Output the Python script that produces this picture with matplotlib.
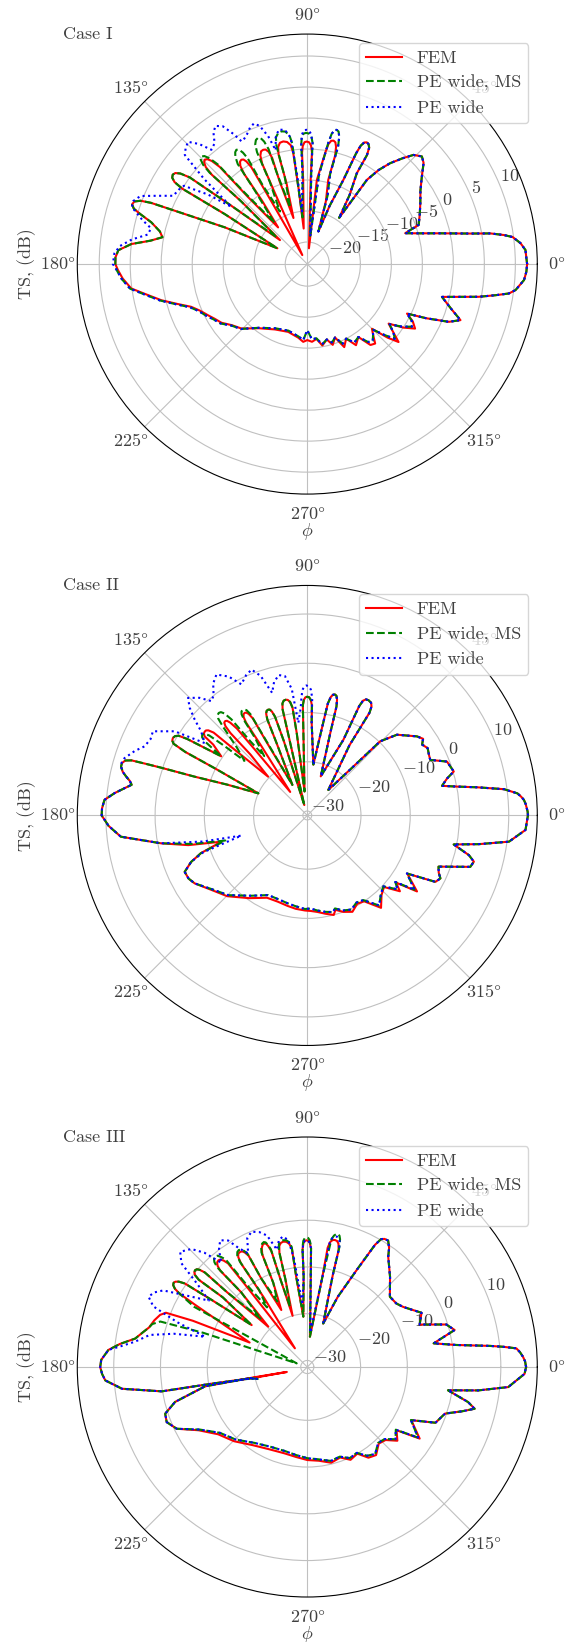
import numpy as np
import matplotlib.pyplot as plt

plt.rcParams['font.family'] = 'serif'
plt.rcParams['font.serif'] = ['cmr10']
plt.rcParams['mathtext.fontset'] = 'cm'
plt.rcParams['axes.formatter.use_mathtext'] = True
plt.rcParams['font.size'] = 13
plt.rcParams['text.color'] = '#404040'
plt.rcParams['axes.labelcolor'] = '#404040'
plt.rcParams['xtick.color'] = '#404040'
plt.rcParams['ytick.color'] = '#404040'
plt.rcParams['grid.color'] = '#c0c0c0'
plt.rcParams['grid.linewidth'] = 0.8

# ---------------- Case I (theta in degrees, TS in dB) ----------------
c1_right_theta = [0, 3.7, 5.6, 7.5, 8.4, 9.5, 10.6, 13.0, 15.5, 17.2, 17.5, 19.4, 24.0, 28.3, 33.0, 37.4,
                  41.0, 43.2, 45.8, 48.0, 50.6, 52.8, 54.7, 55.4, 58.5, 61.4, 61.3, 62.0, 62.9, 63.9, 64.9,
                  65.7, 66.2, 66.8, 69.0, 71.2]
c1_right_ts = [11.9, 11.7, 11.0, 9.85, 8.5, 6.4, 3.2, -1.5, -5.0, -6.7, -7.0, -4.5, -3.7, -2.85, -1.8, -0.3,
               1.3, 1.8, 1.0, -0.6, -2.5, -4.5, -6.9, -14.5, -10.5, -6.9, -3.5, -2.3, -1.85, -1.7, -1.9,
               -2.6, -4.0, -8.8, -13.5, -18.0]

c1_fem_top_theta = [73.5, 76.0, 75.6, 76.2, 77.0, 78.0, 79.0, 80.0, 80.8, 83.5, 84.0,
                    87.7, 87.6, 88.2, 89.2, 90.3, 91.3, 92.2, 92.7, 92.8, 95.8,
                    96.6, 97.2, 97.9, 99.4, 101.1, 102.7, 104.0, 104.7, 104.4, 106.7,
                    108.5, 108.3, 109.0, 110.0, 111.1, 112.3, 113.4, 114.2, 114.5, 119.0,
                    119.8, 120.0, 120.7, 121.4, 122.3, 123.3, 124.3, 125.0, 125.5, 128.5,
                    131.5, 132.0, 132.8, 133.6, 134.5, 135.4, 136.3, 136.9, 136.5, 138.7]
c1_fem_top_ts = [-13.0, -9.6, -5.5, -4.1, -3.4, -3.2, -3.3, -3.9, -5.3, -9.9, -21.0,
                 -10.0, -5.5, -4.4, -3.9, -3.8, -3.9, -4.5, -5.6, -10.0, -17.8,
                 -11.0, -5.5, -4.2, -3.6, -3.4, -3.5, -4.1, -5.3, -10.0, -15.8,
                 -9.5, -5.5, -4.4, -3.9, -3.8, -3.9, -4.5, -5.8, -11.0, -21.9,
                 -12.0, -5.5, -4.3, -3.8, -3.65, -3.8, -4.4, -5.8, -11.0, -16.0,
                 -9.0, -2.5, -0.9, -0.2, 0.05, -0.2, -0.9, -2.5, -9.0, -17.7]

c1_ms_top_theta = [73.5, 75.8, 75.3, 75.9, 76.7, 77.6, 78.5, 79.4, 80.2, 82.5, 84.0,
                   87.5, 87.5, 88.2, 89.3, 90.5, 91.6, 92.5, 92.9, 93.0, 95.8,
                   96.8, 97.1, 97.9, 99.4, 101.0, 102.5, 103.9, 104.6, 104.5, 106.8,
                   108.5, 108.6, 109.4, 110.3, 111.3, 112.5, 113.5, 114.2, 114.5, 117.5,
                   119.5, 119.4, 120.0, 120.8, 121.8, 122.8, 123.8, 124.8, 125.5, 128.5,
                   131.3, 131.9, 132.7, 133.6, 134.6, 135.6, 136.4, 136.9, 136.5, 138.7]
c1_ms_top_ts = [-12.0, -8.5, -4.0, -2.4, -1.6, -1.4, -1.5, -2.2, -3.8, -9.0, -19.0,
                -9.0, -4.0, -2.9, -2.5, -2.4, -2.5, -3.1, -4.3, -9.0, -16.0,
                -10.0, -4.0, -2.6, -1.9, -1.75, -1.9, -2.5, -3.8, -9.0, -14.0,
                -8.0, -4.0, -2.6, -1.9, -1.7, -1.9, -2.5, -3.8, -9.0, -14.0,
                -9.0, -4.0, -2.8, -2.1, -1.86, -2.1, -2.7, -3.9, -9.0, -15.0,
                -8.0, -2.0, -0.4, 0.5, 0.8, 0.5, -0.4, -2.0, -8.5, -17.0]

c1_left_theta = [142.5, 143.6, 144.5, 145.4, 146.4, 147.4, 148.3, 148.9, 148.8, 152.2, 156.0, 158.0, 158.6,
                 159.2, 160.1, 161.2, 162.3, 163.3, 165.0, 167.5, 169.5, 171.5, 173.5, 175.8, 178.0, 180.0]
c1_left_ts = [-8.0, 0.0, 1.6, 2.3, 2.5, 2.3, 1.6, 0.0, -8.0, -18.1, -9.0, -1.0, 3.5,
              5.2, 6.1, 6.3, 5.8, 4.6, 2.5, 0.8, 0.2, 2.0, 5.0, 7.0, 7.4, 7.4]

c1_wide_top_theta = [73.5, 75.8, 75.3, 75.9, 76.7, 77.6, 78.5, 79.4, 80.2, 82.5, 84.0,
                     87.5, 87.5, 88.3, 89.3, 90.4, 91.5, 92.4, 92.9, 93.0, 95.8,
                     96.5, 97.5, 99.5, 102.0, 104.0, 105.5, 107.0, 109.0, 110.8, 112.8, 115.0, 117.0,
                     118.2, 119.5, 121.5, 123.6, 125.5, 127.5, 130.0, 132.0, 134.3, 136.5, 138.3, 140.5,
                     143.0, 145.0, 147.6, 150.0, 153.0, 155.5, 157.8, 160.1, 162.0, 165.0, 167.1, 169.5,
                     172.0, 174.5, 176.8, 180.0]
c1_wide_top_ts = [-12.0, -8.5, -4.0, -2.4, -1.6, -1.4, -1.5, -2.2, -3.8, -9.0, -19.0,
                  -9.0, -4.0, -2.6, -2.0, -1.9, -2.0, -2.7, -4.3, -9.0, -15.0,
                  -9.0, -3.0, -1.6, -1.4, -2.5, -4.5, -2.0, 0.0, 0.7, 0.3, -0.5, -1.0,
                  -1.1, 0.5, 2.5, 3.2, 2.5, 1.0, 0.5, 2.5, 4.0, 3.5, 2.9, -2.0,
                  -8.2, -4.0, 0.0, 0.4, 0.7, 3.0, 5.5, 6.3, 6.2, 4.0, 2.3, 2.6,
                  5.0, 6.8, 7.6, 7.8]

c1_bot_theta = [181.8, 184.5, 187.9, 190.5, 193.9, 197.0, 200.2, 203.5, 207.3, 210.5, 214.4, 219.0, 224.4,
                233.0, 243.7, 254.3, 263.0, 267.0, 270.0, 273.5, 277.0, 280.5, 284.5, 287.5, 290.7, 294.0,
                297.5, 301.0, 305.0, 308.0, 310.5, 313.0, 315.0, 317.5, 319.5, 321.5, 323.8, 326.5, 329.1,
                331.5, 333.6, 335.5, 337.8, 339.9, 342.8, 346.3, 349.2, 350.6, 351.7, 352.9, 355.8, 358.0,
                360.0]
c1_bot_fem_ts = [7.0, 6.3, 5.1, 3.0, 0.7, -1.6, -3.6, -4.7, -5.55, -6.2, -6.8, -7.9, -8.7,
                 -10.6, -11.8, -12.2, -11.6, -11.0, -11.3, -11.0, -11.4, -10.2, -11.0, -9.9, -10.9, -8.9,
                 -10.0, -8.3, -9.2, -7.0, -6.7, -8.0, -8.8, -6.0, -4.2, -5.8, -7.3, -5.0, -3.3,
                 -4.2, -5.6, -2.5, 1.1, 2.75, 0.7, -1.2, 4.6, 7.2, 9.3, 10.3, 11.5, 11.8,
                 11.9]
c1_bot_pe_ts = [7.2, 6.5, 5.3, 3.2, 0.9, -1.4, -3.4, -4.5, -5.3, -6.0, -6.6, -7.8, -8.6,
                -10.7, -12.0, -12.4, -11.8, -11.3, -12.9, -11.4, -11.5, -10.4, -11.0, -10.3, -10.9, -9.5,
                -10.0, -8.8, -9.2, -7.6, -7.3, -8.0, -8.6, -6.6, -5.0, -5.8, -7.1, -5.3, -3.9,
                -4.4, -5.6, -2.5, 1.1, 2.75, 0.7, -1.2, 4.6, 7.2, 9.3, 10.3, 11.5, 11.8,
                11.9]

# ---------------- Case II ----------------
c2_right_theta = [0, 1.0, 3.0, 4.1, 5.0, 6.0, 7.6, 9.4, 10.9, 12.4, 14.8, 16.7, 21.1, 24.3, 26.5, 29.2, 31.7,
                  33.5, 35.8, 42.0, 45.5, 46.7, 50.5, 59.0, 58.8, 59.5, 60.5, 62.0, 63.2, 64.1, 64.6, 64.5,
                  71.0]
c2_right_ts = [13.9, 13.85, 13.5, 13.2, 12.7, 12.0, 9.4, 4.1, 0.1, -2.9, -1.55, 0.15, -0.5, -3.5, -3.3, -2.9,
               -3.5, -2.7, -3.45, -6.4, -9.8, -17.2, -24.2, -14.3, -6.5, -5.2, -4.6, -4.4, -4.5, -5.0, -6.3,
               -13.9, -22.5]

c2_mid_theta = [74.5, 75.0, 75.6, 76.3, 77.1, 78.0, 78.8, 79.6, 80.5, 83.2,
                87.3, 87.6, 88.3, 89.1, 90.0, 90.9, 91.7, 92.3, 92.6, 96.5,
                97.3, 97.8, 98.6, 99.6, 100.6, 101.6, 102.5, 103.1, 103.2, 106.0,
                107.5, 108.1, 108.8, 109.5, 110.3, 111.2, 112.0, 112.6, 113.0, 116.0]
c2_mid_ts = [-13.0, -8.0, -6.6, -5.9, -5.7, -5.85, -6.4, -7.8, -13.0, -20.5,
             -12.0, -8.5, -7.4, -6.9, -6.8, -6.9, -7.4, -8.5, -13.0, -26.0,
             -14.0, -8.8, -7.6, -7.1, -7.0, -7.1, -7.6, -8.8, -14.0, -28.7,
             -15.0, -9.8, -8.6, -8.1, -8.0, -8.1, -8.6, -9.8, -15.0, -24.0]

c2_fem_top_theta = [119.0, 119.3, 120.0, 120.7, 121.4, 122.2, 122.9, 123.4, 123.5, 126.0,
                    128.5, 129.0, 129.7, 130.3, 131.0, 131.8, 132.5, 133.0, 133.0, 135.3,
                    138.0, 138.5, 139.3, 140.0, 140.7, 141.6, 142.4, 143.0, 145.5,
                    147.5, 148.2, 149.0, 150.0, 151.0, 151.8, 152.5, 153.0, 155.7]
c2_fem_top_ts = [-14.0, -8.3, -7.1, -6.6, -6.5, -6.6, -7.1, -8.3, -14.0, -25.0,
                 -14.0, -8.2, -6.4, -5.7, -5.5, -5.6, -6.3, -8.0, -14.0, -19.7,
                 -10.0, -5.5, -4.4, -4.05, -4.0, -4.1, -4.6, -7.0, -9.7,
                 -2.0, -0.2, 0.4, 0.6, 0.45, -0.1, -3.0, -10.0, -20.0]

c2_ms_top_theta = [119.0, 119.3, 120.0, 120.7, 121.5, 122.3, 123.0, 123.6, 124.0, 126.0,
                   127.5, 128.3, 129.1, 129.9, 130.8, 131.7, 132.6, 133.5, 136.0, 139.0,
                   140.0, 140.8, 141.6, 142.5, 143.4, 144.2, 145.5,
                   147.5, 148.2, 149.0, 150.0, 151.0, 151.8, 152.5, 153.0, 155.7]
c2_ms_top_ts = [-12.0, -7.3, -6.2, -5.9, -5.8, -5.9, -6.4, -8.0, -12.0, -16.0,
                -12.0, -6.0, -4.2, -3.55, -3.4, -3.55, -4.2, -6.0, -11.0, -14.0,
                -9.0, -5.2, -4.2, -4.0, -4.3, -5.5, -9.7,
                -2.0, -0.2, 0.4, 0.6, 0.45, -0.1, -3.0, -10.0, -20.0]

c2_left_theta = [158.9, 161.0, 161.9, 162.3, 162.6, 163.2, 164.2, 165.3, 166.7, 167.9, 169.0, 170.1, 171.5,
                 173.4, 175.6, 178.0, 180.0]
c2_left_ts = [-13.6, -6.7, 0.3, 3.8, 6.5, 7.7, 8.2, 8.2, 7.6, 6.7, 5.8, 5.3, 6.6,
              8.5, 10.4, 10.8, 10.85]

c2_wide_top_theta = [74.5, 75.0, 75.6, 76.3, 77.1, 78.0, 78.8, 79.6, 80.5, 83.2,
                     87.3, 87.6, 88.4, 89.3, 90.4, 91.4, 92.2, 92.8, 93.5, 95.5,
                     97.0, 99.1, 101.5, 104.0, 106.0, 108.5, 110.9, 113.5, 116.7, 119.5, 122.8, 125.5,
                     128.0, 130.0, 132.5, 135.4, 137.5, 139.6, 141.6, 144.8, 147.6, 151.4, 154.0, 157.0,
                     159.5, 162.6, 164.2, 165.3, 166.7, 167.9, 169.0, 170.1, 171.5, 173.4, 175.6, 178.0,
                     180.0]
c2_wide_top_ts = [-13.0, -8.0, -6.6, -5.9, -5.7, -5.85, -6.4, -7.8, -13.0, -20.5,
                  -12.0, -7.0, -5.3, -4.7, -4.5, -4.7, -5.4, -6.8, -9.0, -12.0,
                  -5.0, -2.25, -1.8, -3.0, -5.0, -1.0, 0.8, 0.2, -1.1, 1.5, 3.15, 2.0,
                  0.0, -0.6, 1.5, 3.1, 1.5, -0.9, -3.4, -5.4, 1.0, 4.8, 4.5, 5.0,
                  6.5, 8.0, 8.3, 8.2, 7.6, 6.7, 5.8, 5.3, 6.6, 8.5, 10.4, 10.8,
                  10.85]

c2_bot_theta = [183.0, 186.5, 190.8, 194.0, 197.0, 199.5, 201.8, 204.7, 208.0, 211.1, 218.0, 225.2, 235.0,
                243.9, 251.0, 257.8, 263.0, 268.6, 272.0, 276.0, 280.5, 284.9, 286.6, 290.5, 295.1, 299.5,
                303.5, 308.6, 313.0, 317.0, 320.7, 322.9, 325.3, 329.8, 332.6, 334.7, 336.5, 338.7, 342.5,
                344.5, 346.2, 348.8, 350.5, 352.6, 356.2, 360.0]
c2_bot_fem_ts = [9.5, 7.2, -0.7, -6.0, -12.7, -8.0, -5.5, -3.5, -3.6, -4.2, -6.3, -7.8, -10.4,
                 -12.3, -12.4, -12.1, -11.8, -11.6, -11.5, -11.2, -10.6, -10.0, -10.9, -10.0, -9.3, -10.3,
                 -10.0, -6.9, -8.8, -9.6, -6.6, -8.3, -3.8, -7.4, -1.6, -1.0, -1.8, -2.3, 3.8,
                 4.2, 2.9, -0.6, 4.4, 10.4, 13.5, 13.9]
c2_bot_ms_ts = [9.5, 7.2, -0.7, -7.0, -13.5, -8.0, -5.5, -3.5, -3.6, -4.2, -6.5, -8.1, -11.0,
                -12.9, -12.9, -12.6, -12.3, -11.9, -12.0, -11.5, -11.0, -10.6, -11.2, -10.3, -9.8, -10.6,
                -10.3, -7.5, -9.0, -9.8, -7.2, -8.5, -4.4, -7.5, -1.6, -1.0, -1.8, -2.3, 3.8,
                4.2, 2.9, -0.6, 4.4, 10.4, 13.5, 13.9]
c2_bot_wide_ts = [9.5, 7.2, -0.7, -9.0, -16.9, -8.5, -5.5, -3.5, -3.6, -4.2, -6.5, -8.1, -11.0,
                  -12.9, -12.9, -12.6, -12.3, -11.9, -12.0, -11.5, -11.0, -10.6, -11.2, -10.3, -9.8, -10.6,
                  -10.3, -7.5, -9.0, -9.8, -7.2, -8.5, -4.4, -7.5, -1.6, -1.0, -1.8, -2.3, 3.8,
                  4.2, 2.9, -0.6, 4.4, 10.4, 13.5, 13.9]

# ---------------- Case III ----------------
c3_right_theta = [0, 1.5, 2.7, 4.0, 5.1, 5.9, 6.6, 8.4, 10.6, 12.5, 14.1, 17.0, 20.7, 25.4, 28.6, 32.1, 35.5,
                  40.4, 47.5, 53.7, 55.5, 57.4, 58.9, 60.0, 61.0, 63.0, 66.5, 69.9]
c3_right_ts = [15.4, 15.2, 14.8, 14.2, 13.5, 10.7, 7.9, 0.85, -3.9, -1.4, 1.1, -0.3, -5.7, -4.35, -5.85, -7.2,
               -8.0, -8.2, -5.2, -2.15, -0.5, 0.7, 0.6, 0.2, -1.5, -8.1, -15.0, -21.5]

c3_fem_top_theta = [74.5, 75.0, 75.8, 76.7, 77.7, 78.7, 79.6, 80.3, 80.5, 85.0,
                    87.8, 88.2, 88.9, 89.6, 90.3, 91.1, 91.8, 92.3, 92.3, 94.5,
                    97.0, 97.4, 98.3, 99.5, 100.8, 102.0, 103.0, 103.7, 104.0, 106.0,
                    107.0, 107.2, 107.9, 108.5, 109.2, 110.1, 111.0, 111.8, 112.0, 114.5,
                    117.5, 117.8, 118.6, 119.4, 120.3, 121.3, 122.1, 122.6, 122.0, 123.5,
                    127.0, 127.4, 128.2, 129.0, 129.8, 130.7, 131.5, 132.1, 131.5, 134.0,
                    137.0, 137.3, 137.9, 138.5, 139.2, 140.0, 140.7, 141.2, 140.5, 143.0,
                    145.0, 145.7, 146.4, 147.1, 147.8, 148.6, 149.4, 150.1, 151.0, 157.0,
                    158.0, 159.0, 160.5, 163.0, 166.0, 168.0, 170.6, 173.0, 175.1, 178.0, 180.0]
c3_fem_top_ts = [-11.0, -5.5, -4.2, -3.7, -3.6, -3.7, -4.2, -5.5, -12.0, -24.9,
                 -12.0, -6.0, -4.8, -4.4, -4.3, -4.4, -4.9, -6.2, -12.0, -20.6,
                 -12.0, -6.0, -4.8, -4.25, -4.1, -4.25, -4.8, -6.2, -12.0, -20.0,
                 -12.0, -5.5, -4.2, -3.6, -3.4, -3.6, -4.2, -5.5, -12.0, -18.0,
                 -10.0, -4.5, -3.5, -3.0, -2.9, -3.0, -3.6, -5.0, -14.0, -26.6,
                 -10.0, -3.5, -2.4, -1.85, -1.7, -1.85, -2.4, -3.6, -10.0, -19.4,
                 -8.0, -1.6, -0.4, 0.15, 0.3, 0.15, -0.4, -1.6, -8.0, -16.5,
                 -6.0, 0.3, 1.6, 2.2, 2.4, 2.2, 1.5, 0.2, -4.0, -18.0,
                 -5.0, 1.0, 2.0, 2.8, 3.5, 4.5, 5.9, 9.0, 11.3, 12.7, 12.9]

c3_ms_top_theta = [74.5, 75.0, 75.6, 76.2, 76.9, 77.7, 78.5, 79.3, 80.5, 85.0,
                   87.8, 88.2, 88.9, 89.6, 90.3, 91.1, 91.8, 92.3, 92.3, 94.5,
                   97.0, 97.4, 98.3, 99.5, 100.8, 102.0, 103.0, 103.7, 104.0, 106.0,
                   107.0, 107.2, 107.9, 108.5, 109.2, 110.1, 111.0, 111.8, 112.0, 114.5,
                   117.5, 117.8, 118.6, 119.4, 120.3, 121.3, 122.1, 122.6, 122.0, 124.0,
                   126.5, 127.2, 128.1, 128.9, 129.8, 130.7, 131.5, 132.1, 131.5, 134.0,
                   137.0, 137.3, 137.9, 138.5, 139.2, 140.0, 140.7, 141.2, 140.5, 143.0,
                   145.0, 145.7, 146.4, 147.1, 147.8, 148.6, 149.4, 150.1, 152.0, 161.0,
                   161.8, 162.8, 164.5, 166.0, 168.0, 170.6, 173.0, 175.1, 178.0, 180.0]
c3_ms_top_ts = [-11.0, -5.0, -3.2, -2.5, -2.2, -2.3, -2.7, -3.6, -12.0, -24.9,
                -12.0, -5.5, -4.3, -3.8, -3.7, -3.8, -4.4, -5.8, -12.0, -20.6,
                -12.0, -5.5, -4.4, -3.9, -3.8, -3.9, -4.4, -5.8, -12.0, -18.0,
                -12.0, -5.0, -3.9, -3.3, -3.1, -3.3, -3.9, -5.0, -12.0, -16.0,
                -10.0, -4.0, -3.1, -2.6, -2.4, -2.6, -3.2, -4.6, -12.0, -16.0,
                -9.0, -2.5, -1.5, -0.8, -0.6, -0.8, -1.4, -2.6, -10.0, -17.0,
                -8.0, -1.6, -0.4, 0.15, 0.3, 0.15, -0.4, -1.6, -8.0, -16.5,
                -6.0, 0.3, 1.6, 2.2, 2.4, 2.2, 1.5, 0.2, -4.0, -29.0,
                -8.0, 1.5, 3.0, 3.5, 4.5, 5.9, 9.0, 11.3, 12.7, 12.9]

c3_wide_top_theta = [74.5, 75.0, 75.6, 76.3, 77.2, 78.1, 79.0, 79.8, 80.5, 85.0,
                     87.8, 88.2, 88.9, 89.6, 90.3, 91.1, 91.8, 92.3, 92.3, 94.5,
                     97.0, 98.5, 100.5, 102.5, 104.5, 107.0, 109.5, 112.4, 115.0, 117.5, 120.0, 122.0,
                     124.5, 127.0, 129.5, 132.0, 134.5, 137.8, 140.5, 143.0, 146.0, 149.0, 152.0, 154.0,
                     156.1, 158.5, 161.0, 163.5, 166.0, 168.5, 171.6, 173.5, 175.1, 178.0, 180.0]
c3_wide_top_ts = [-11.0, -5.0, -3.6, -3.0, -2.8, -2.9, -3.3, -4.3, -12.0, -24.0,
                  -12.0, -6.0, -4.8, -4.4, -4.3, -4.4, -4.9, -6.2, -12.0, -18.0,
                  -8.0, -4.0, -3.0, -3.5, -5.5, -2.0, -0.8, -0.1, -1.0, -4.0, -2.0, 0.5,
                  1.5, 0.0, -2.5, 1.5, 4.0, 5.3, 3.5, -2.0, -6.0, -2.0, 3.5, 5.0,
                  5.75, 4.0, -2.0, -8.6, -2.0, 3.0, 5.8, 8.5, 11.3, 12.7, 12.9]

c3_bot_theta = [182.0, 183.8, 186.7, 189.5, 189.9, 191.5, 193.6, 191.0, 190.7, 194.8, 198.2, 201.4, 205.3,
                210.2, 217.0, 225.4, 235.0, 245.0, 255.0, 263.0, 270.0, 277.0, 284.0, 290.0, 295.0, 300.0,
                304.0, 308.0, 313.0, 317.0, 320.7, 324.7, 327.5, 332.9, 336.5, 341.3, 344.0, 346.0, 347.7,
                350.6, 352.2, 354.3, 358.2, 360.0]
c3_bot_fem_ts = [12.5, 11.9, 8.5, 0.15, -10.65, -20.0, -26.9, -20.0, -9.15, -2.15, 0.6, 0.9, -0.5,
                 -4.5, -7.5, -9.1, -11.0, -12.0, -12.3, -12.0, -11.5, -11.2, -10.3, -10.8, -9.5, -10.0,
                 -8.0, -7.5, -9.0, -8.5, -6.5, -8.0, -2.9, -6.4, -1.5, -0.3, 3.0, 5.5, 3.8,
                 -0.9, 5.5, 11.8, 15.1, 15.4]
c3_bot_pe_ts = [12.5, 11.9, 8.5, 0.15, -10.65, -19.0, -20.5, -19.0, -9.15, -2.15, 0.6, 0.9, -0.5,
                -4.8, -8.0, -9.6, -11.6, -12.6, -12.8, -12.4, -11.9, -11.5, -10.7, -11.0, -9.9, -10.2,
                -8.5, -7.8, -9.2, -8.8, -7.0, -8.2, -3.3, -6.5, -1.5, -0.3, 3.0, 5.5, 3.8,
                -0.9, 5.5, 11.8, 15.1, 15.4]

case_titles = ['Case I', 'Case II', 'Case III']
r_limits = [(-23.56, 13.54), (-30.9, 15.8), (-31.4, 17.8)]
r_ticks = [[-20, -15, -10, -5, 0, 5, 10], [-30, -20, -10, 0, 10], [-30, -20, -10, 0, 10]]
theta_ticks = [0, 45, 90, 135, 180, 225, 270, 315]

fem = [
    (c1_right_theta + c1_fem_top_theta + c1_left_theta + c1_bot_theta,
     c1_right_ts + c1_fem_top_ts + c1_left_ts + c1_bot_fem_ts),
    (c2_right_theta + c2_mid_theta + c2_fem_top_theta + c2_left_theta + c2_bot_theta,
     c2_right_ts + c2_mid_ts + c2_fem_top_ts + c2_left_ts + c2_bot_fem_ts),
    (c3_right_theta + c3_fem_top_theta + c3_bot_theta,
     c3_right_ts + c3_fem_top_ts + c3_bot_fem_ts),
]
pe_ms = [
    (c1_right_theta + c1_ms_top_theta + c1_left_theta + c1_bot_theta,
     c1_right_ts + c1_ms_top_ts + c1_left_ts + c1_bot_pe_ts),
    (c2_right_theta + c2_mid_theta + c2_ms_top_theta + c2_left_theta + c2_bot_theta,
     c2_right_ts + c2_mid_ts + c2_ms_top_ts + c2_left_ts + c2_bot_ms_ts),
    (c3_right_theta + c3_ms_top_theta + c3_bot_theta,
     c3_right_ts + c3_ms_top_ts + c3_bot_pe_ts),
]
pe_wide = [
    (c1_right_theta + c1_wide_top_theta + c1_bot_theta,
     c1_right_ts + c1_wide_top_ts + c1_bot_pe_ts),
    (c2_right_theta + c2_wide_top_theta + c2_bot_theta,
     c2_right_ts + c2_wide_top_ts + c2_bot_wide_ts),
    (c3_right_theta + c3_wide_top_theta + c3_bot_theta,
     c3_right_ts + c3_wide_top_ts + c3_bot_pe_ts),
]

fig = plt.figure(figsize=(5.67, 16.42), dpi=100)
bottoms = [0.6991, 0.3633, 0.0274]

for i in range(3):
    ax = fig.add_axes([0.1363, bottoms[i], 0.8113, 0.28015], projection='polar')
    ax.plot(np.deg2rad(fem[i][0]), fem[i][1], color='r', ls='-', lw=1.5, label='FEM')
    ax.plot(np.deg2rad(pe_ms[i][0]), pe_ms[i][1], color='g', ls='--', lw=1.5, label='PE wide, MS')
    ax.plot(np.deg2rad(pe_wide[i][0]), pe_wide[i][1], color='b', ls=':', lw=1.5, label='PE wide')
    ax.set_rlim(*r_limits[i])
    ax.set_rgrids(r_ticks[i], labels=['$%d$' % t for t in r_ticks[i]])
    ax.set_thetagrids(theta_ticks, labels=[r'$%d\degree$' % t for t in theta_ticks])
    ax.set_xlabel(r'$\phi$', labelpad=-1)
    ax.set_ylabel('TS, (dB)')
    ax.yaxis.set_label_coords(-0.09, 0.5)
    ax.text(-0.031, 1.0, case_titles[i], transform=ax.transAxes, va='center', ha='left')
    ax.legend(loc='upper right')

fig.savefig('out.png', dpi=100)
